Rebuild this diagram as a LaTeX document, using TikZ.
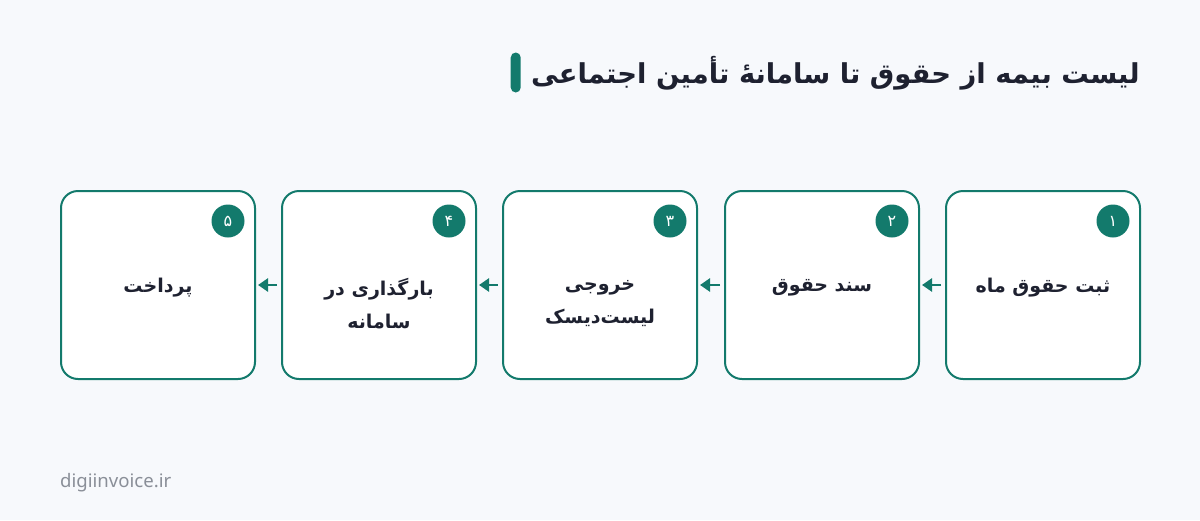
\documentclass[tikz,border=0pt]{standalone}
\usepackage{fontspec}
\usetikzlibrary{arrows.meta}
\setmainfont{Noto Sans}
\newfontfamily\fa[Script=Arabic]{DejaVu Sans}
\TeXXeTstate=1
\definecolor{tealc}{HTML}{137A6C}
\definecolor{inkc}{HTML}{1E2130}
\definecolor{bgc}{HTML}{F7F9FC}
\definecolor{footc}{HTML}{8A8F98}
\tikzset{
  stepbox/.style={draw=tealc, line width=2pt, fill=white, rounded corners=17pt,
    minimum width=194pt, minimum height=188pt, inner sep=0pt},
  numc/.style={circle, fill=tealc, minimum size=33pt, inner sep=0pt, text=white,
    font=\fa\fontsize{16}{18}\selectfont},
  lbl/.style={text=inkc, align=center, inner sep=0pt,
    font=\fa\bfseries\fontsize{19}{33}\selectfont},
  arr/.style={draw=tealc, line width=2.5pt, -{Triangle[length=10pt,width=13pt]}},
}
\begin{document}
\begin{tikzpicture}[x=1pt,y=-1pt]
\fill[bgc] (0,0) rectangle (1200,520);
\useasboundingbox (0,0) rectangle (1200,520);
% title
\node[anchor=east, inner sep=0pt, text=inkc, font=\fa\bfseries\fontsize{27.4}{34}\selectfont] (title) at (1140,73) {\beginR لیست بیمه از حقوق تا سامانهٔ تأمین اجتماعی\endR};
\node[fill=tealc, rounded corners=5pt, minimum width=10pt, minimum height=40pt, inner sep=0pt, anchor=east] (bar) at ([xshift=-10pt]title.west |- 0,72.5) {};
% boxes
\node[stepbox] (b1) at (1043,285) {};
\node[stepbox] (b2) at (822,285) {};
\node[stepbox] (b3) at (600,285) {};
\node[stepbox] (b4) at (379,285) {};
\node[stepbox] (b5) at (158,285) {};
% numbers
\node[numc] (n1) at ([xshift=-28pt,yshift=-31pt]b1.north east) {۱};
\node[numc] (n2) at ([xshift=-28pt,yshift=-31pt]b2.north east) {۲};
\node[numc] (n3) at ([xshift=-28pt,yshift=-31pt]b3.north east) {۳};
\node[numc] (n4) at ([xshift=-28pt,yshift=-31pt]b4.north east) {۴};
\node[numc] (n5) at ([xshift=-28pt,yshift=-31pt]b5.north east) {۵};
% labels
\node[lbl] (t1) at ([yshift=-3pt]b1.center) {\beginR ثبت حقوق ماه\endR};
\node[lbl] (t2) at ([yshift=-3pt]b2.center) {\beginR سند حقوق\endR};
\node[lbl] (t3) at ([yshift=-19pt]b3.center) {\beginR خروجی\endR\\\beginR لیست‌دیسک\endR};
\node[lbl] (t4) at ([yshift=-19pt]b4.center) {\beginR بارگذاری در\endR\\\beginR سامانه\endR};
\node[lbl] (t5) at ([yshift=-3pt]b5.center) {\beginR پرداخت\endR};
% arrows
\draw[arr] ([xshift=-4pt]b1.west) -- ([xshift=2pt]b2.east);
\draw[arr] ([xshift=-4pt]b2.west) -- ([xshift=2pt]b3.east);
\draw[arr] ([xshift=-4pt]b3.west) -- ([xshift=2pt]b4.east);
\draw[arr] ([xshift=-4pt]b4.west) -- ([xshift=2pt]b5.east);
% footer
\node[anchor=west, inner sep=0pt, text=footc, font=\fontsize{18.6}{20}\selectfont] (foot) at (60,483) {digiinvoice.ir};
\end{tikzpicture}
\end{document}
